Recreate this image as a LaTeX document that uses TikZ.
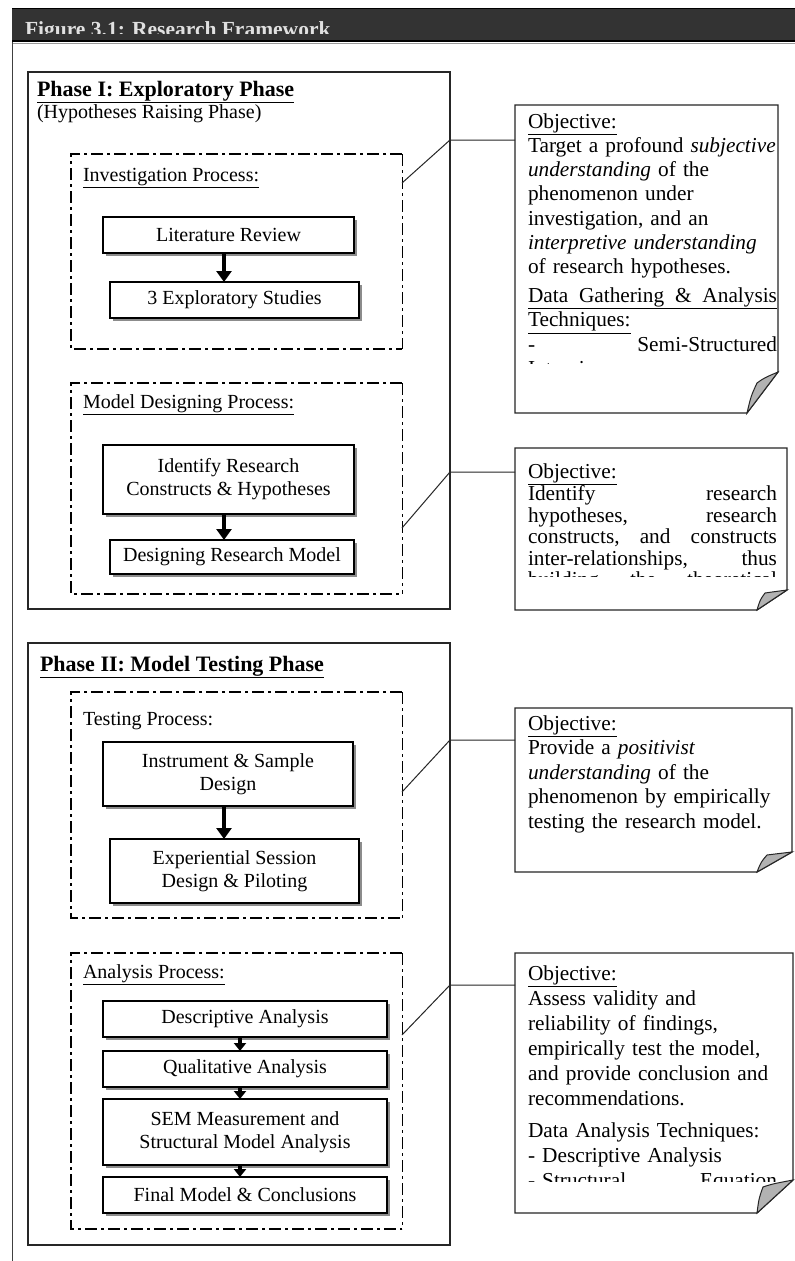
\documentclass[tikz,border=0pt]{standalone}
\usepackage{fontspec}
\setmainfont{Liberation Serif}
\usetikzlibrary{arrows.meta,shadows}

% width of the text column inside the objective notes
\newlength\notew
\setlength\notew{249pt}
% strut that fixes the height of a note's first line
\newcommand\fstrut{\rule{0pt}{17pt}}
% a fully justified line in a note
\newcommand\jline[1]{\leavevmode\hbox to \notew{#1}}

\begin{document}
\begin{tikzpicture}[x=1pt,y=-1pt,
  every node/.style={inner sep=0pt, outer sep=0pt},
  region/.style={draw=none},
  phasebox/.style={draw=black!85, line width=1.3pt},
  stepbox/.style={draw=black, line width=1.4pt, fill=white, align=center,
    font=\fontsize{20}{23}\selectfont,
    general shadow={fill=black!45, shadow xshift=3pt, shadow yshift=-3pt}},
  dashdot/.style={line width=2.2pt, dash pattern=on 12pt off 4pt on 3pt off 4pt},
  dashdotthin/.style={line width=0.9pt, dash pattern=on 12pt off 4pt on 3pt off 4pt},
  bigarrow/.style={line width=4pt, -{Triangle[width=15pt,length=11pt]}},
  smallarrow/.style={line width=4pt, -{Triangle[width=12pt,length=8pt]}},
  leader/.style={draw=black!85, line width=1pt},
  paper/.style={draw=black!85, line width=1.3pt, fill=white},
  curl/.style={draw=black!85, line width=1pt, fill=black!30},
  notetext/.style={anchor=north west, text width=\notew, align=left,
    font=\fontsize{21.3}{24.3}\selectfont},
  proclabel/.style={anchor=base west, font=\fontsize{20}{24}\selectfont},
  phasetitle/.style={anchor=base west, font=\bfseries\fontsize{22}{26}\selectfont}
]
\useasboundingbox (0,0) rectangle (795,1261);
\fill[white] (0,0) rectangle (795,1261);

% ---------- header bar and page edge ----------
\fill[black!80] (12,8) rectangle (795,42);
\draw[black, line width=1.6pt] (12,8.5) -- (795,8.5);
\draw[black, line width=1.6pt] (12,41) -- (795,41);
\draw[black!40, line width=1pt] (12,43) -- (795,43);
\begin{scope}
  \clip (12,8) rectangle (795,33);
  \node[anchor=base west, text=white!88!black,
        font=\bfseries\fontsize{21.5}{24}\selectfont] (title) at (25,36)
        {Figure 3.1: Research Framework};
\end{scope}
\draw[black!75, line width=1pt] (12,42) -- (12,1261);

% ---------- Phase I ----------
\node[phasebox, minimum width=422pt, minimum height=537pt] (p1) at (239,340.5) {};
\node[phasetitle] (p1title) at (37,96) {\underline{Phase I: Exploratory Phase}};
\node[proclabel] (p1sub) at (37,118) {(Hypotheses Raising Phase)};

% investigation process
\node[region, minimum width=331pt, minimum height=195pt] (inv) at (236.5,251.5) {};
\draw[dashdot] (inv.north east) -- (inv.north west) -- (inv.south west) -- (inv.south east);
\draw[dashdotthin] (inv.north east) -- (inv.south east);
\node[proclabel] (invlabel) at (83,181) {\underline{Investigation Process:}};
\node[stepbox, minimum width=251pt, minimum height=36pt] (lr) at (228.5,235) {Literature Review};
\node[stepbox, minimum width=249pt, minimum height=36pt] (es) at (234.5,300) {3 Exploratory Studies};
\coordinate (ax1) at (224,0);
\draw[bigarrow] (lr.south -| ax1) -- (es.north -| ax1);

% model designing process
\node[region, minimum width=331pt, minimum height=211pt] (mdp) at (236.5,488.5) {};
\draw[dashdot] (mdp.north east) -- (mdp.north west) -- (mdp.south west) -- (mdp.south east);
\draw[dashdotthin] (mdp.north east) -- (mdp.south east);
\node[proclabel] (mdplabel) at (83,408) {\underline{Model Designing Process:}};
\node[stepbox, minimum width=251pt, minimum height=69pt] (irc) at (228.5,479.5)
  {Identify Research\\Constructs \& Hypotheses};
\node[stepbox, minimum width=244pt, minimum height=34pt] (drm) at (232,557) {Designing Research Model};
\draw[bigarrow] (irc.south -| ax1) -- (drm.north -| ax1);

% ---------- Phase II ----------
\node[phasebox, minimum width=422pt, minimum height=602pt] (p2) at (239,944) {};
\node[phasetitle] (p2title) at (40,671) {\underline{Phase II: Model Testing Phase}};

% testing process
\node[region, minimum width=331pt, minimum height=226pt] (tp) at (236.5,805) {};
\draw[dashdot] (tp.north east) -- (tp.north west) -- (tp.south west) -- (tp.south east);
\draw[dashdotthin] (tp.north east) -- (tp.south east);
\node[proclabel] (tplabel) at (83,725) {Testing Process:};
\node[stepbox, minimum width=250pt, minimum height=64pt] (isd) at (228,774)
  {Instrument \& Sample\\Design};
\node[stepbox, minimum width=249pt, minimum height=64pt] (esd) at (234.5,871)
  {Experiential Session\\Design \& Piloting};
\draw[bigarrow] (isd.south -| ax1) -- (esd.north -| ax1);

% analysis process
\node[region, minimum width=331pt, minimum height=276pt] (ap) at (236.5,1091) {};
\draw[dashdot] (ap.north east) -- (ap.north west) -- (ap.south west) -- (ap.south east);
\draw[dashdotthin] (ap.north east) -- (ap.south east);
\node[proclabel] (aplabel) at (83,978) {\underline{Analysis Process:}};
\node[stepbox, minimum width=284pt, minimum height=36pt] (da) at (245,1019) {Descriptive Analysis};
\node[stepbox, minimum width=284pt, minimum height=36pt] (qa) at (245,1069) {Qualitative Analysis};
\node[stepbox, minimum width=284pt, minimum height=66pt] (sem) at (245,1132)
  {SEM Measurement and\\Structural Model Analysis};
\node[stepbox, minimum width=284pt, minimum height=36pt] (fm) at (245,1195) {Final Model \& Conclusions};
\coordinate (ax2) at (240,0);
\draw[smallarrow] (da.south -| ax2) -- (qa.north -| ax2);
\draw[smallarrow] (qa.south -| ax2) -- (sem.north -| ax2);
\draw[smallarrow] (sem.south -| ax2) -- (fm.north -| ax2);

% ---------- objective notes ----------
% note 1
\node[region, minimum width=263pt, minimum height=308pt] (n1) at (646.5,259) {};
\draw[paper] (515,105) -- (778,105) -- (778,372) -- (747,413) -- (515,413) -- cycle;
\draw[curl] (747,413) .. controls (751,396) .. (757,383) .. controls (764,378) .. (778,372) -- cycle;
\begin{scope}
  \clip (515,105) rectangle (778,363);
  \node[notetext] (t1) at (528,111) {\fstrut\underline{Objective:}\\
    Target a profound \textit{subjective}\\
    \textit{understanding} of the\\
    phenomenon under\\
    investigation, and an\\
    \textit{interpretive understanding}\\
    of research hypotheses.\\[4.5pt]
    \underline{\jline{Data\hfill Gathering\hfill \&\hfill Analysis}}\\
    \underline{Techniques:}\\
    \jline{-\hfill Semi-Structured}\\
    Interviews};
\end{scope}

% note 2
\node[region, minimum width=272pt, minimum height=162pt] (n2) at (651,529) {};
\draw[paper] (515,448) -- (787,448) -- (787,590) -- (757,610) -- (515,610) -- cycle;
\draw[curl] (757,610) .. controls (760,600) .. (765,593) .. controls (772,592) .. (787,590) -- cycle;
\begin{scope}
  \clip (515,448) rectangle (787,576);
  \node[notetext, font=\fontsize{21.3}{21.5}\selectfont] (t2) at (528,461) {\fstrut\underline{Objective:}\\
    \jline{Identify\hfill research}\\
    \jline{hypotheses,\hfill research}\\
    \jline{constructs,\hfill and\hfill constructs}\\
    \jline{inter-relationships,\hfill thus}\\
    \jline{building\hfill the\hfill theoretical}};
\end{scope}

% note 3
\node[region, minimum width=277pt, minimum height=164pt] (n3) at (653.5,790) {};
\draw[paper] (515,708) -- (792,708) -- (792,852) -- (757,872) -- (515,872) -- cycle;
\draw[curl] (757,872) .. controls (761,862) .. (767,855) .. controls (775,854) .. (792,852) -- cycle;
\node[notetext, font=\fontsize{21.3}{24.5}\selectfont] (t3) at (528,713) {\fstrut\underline{Objective:}\\
  Provide a \textit{positivist}\\
  \textit{understanding} of the\\
  phenomenon by empirically\\
  testing the research model.};

% note 4
\node[region, minimum width=278pt, minimum height=260pt] (n4) at (654,1083) {};
\draw[paper] (515,953) -- (793,953) -- (793,1180) -- (757,1213) -- (515,1213) -- cycle;
\draw[curl] (757,1213) .. controls (759,1198) .. (763,1187) .. controls (772,1184) .. (793,1180) -- cycle;
\begin{scope}
  \clip (515,953) rectangle (793,1181);
  \node[notetext, font=\fontsize{21.3}{25}\selectfont] (t4) at (528,963) {\fstrut\underline{Objective:}\\
    Assess validity and\\
    reliability of findings,\\
    empirically test the model,\\
    and provide conclusion and\\
    recommendations.\\[7pt]
    Data Analysis Techniques:\\
    - Descriptive Analysis\\
    \jline{- Structural\hfill Equation}};
\end{scope}

% ---------- leaders from the processes to their notes ----------
\coordinate (s1) at (402,183);
\coordinate (k1) at (450,140);
\draw[leader] (s1) -- (k1) -- (n1.west |- k1);
\coordinate (s2) at (402,528);
\coordinate (k2) at (450,472);
\draw[leader] (s2) -- (k2) -- (n2.west |- k2);
\coordinate (s3) at (402,792);
\coordinate (k3) at (450,740);
\draw[leader] (s3) -- (k3) -- (n3.west |- k3);
\coordinate (s4) at (402,1035);
\coordinate (k4) at (450,985);
\draw[leader] (s4) -- (k4) -- (n4.west |- k4);
\end{tikzpicture}
\end{document}
